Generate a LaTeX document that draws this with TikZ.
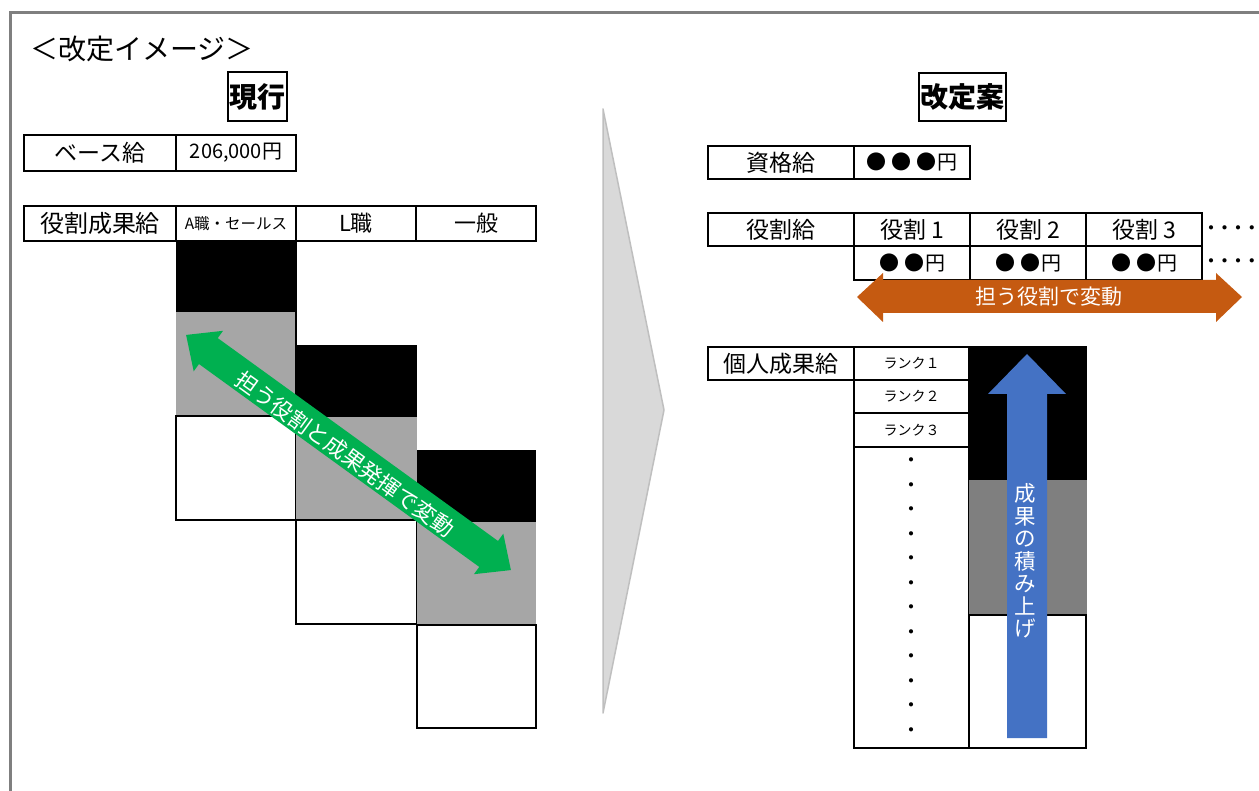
\documentclass[tikz,border=0pt]{standalone}
\usepackage{fontspec}
\setmainfont{Noto Sans CJK JP}
\definecolor{framegray}{RGB}{127,127,127}
\definecolor{midgray}{RGB}{166,166,166}
\definecolor{darkgray2}{RGB}{127,127,127}
\definecolor{arrgreen}{RGB}{0,176,80}
\definecolor{arrorange}{RGB}{197,90,17}
\definecolor{arrblue}{RGB}{68,114,196}
\definecolor{chevfill}{RGB}{217,217,217}
\definecolor{chevline}{RGB}{191,191,191}
\tikzset{
  cell/.style={draw=black, line width=1.7pt, fill=white, inner sep=0pt, font=\fontsize{23}{25}\selectfont},
  tline/.style={draw=black, line width=1.7pt},
  title/.style={draw=black, line width=1.7pt, inner sep=0pt, font=\bfseries\fontsize{28}{30}\selectfont},
  wtext/.style={text=white, inner sep=0pt},
  dotfont/.style={inner sep=0pt, font=\bfseries\fontsize{15}{15}\selectfont},
}
\newcommand\mkcell[7][]{\node[cell,#1,minimum width={#5-#3},minimum height={#6-#4}] (#2) at ({(#3+#5)/2},{(#4+#6)/2}) {#7};}
\newcommand\bdots[1]{●\hspace{#1}●}
\newcommand\onedot{\makebox[13.6pt]{・}}
\newcommand\fourdots{\onedot\onedot\onedot\onedot}
\begin{document}
\begin{tikzpicture}[x=1pt,y=-1pt]
\useasboundingbox (0,0) rectangle (1259,791);
\clip (0,0) rectangle (1259,791);
\fill[white] (0,0) rectangle (1259,791);
\draw[framegray, line width=3pt] (10,13) rectangle (1300,830);

% title
\node[anchor=west, inner sep=0pt, font=\fontsize{28}{30}\selectfont] (ttl) at (30,49) {＜改定イメージ＞};

% current
\node[title, minimum width=59, minimum height=49] (genko) at (257.5,96.5) {現行};
\mkcell{base}{24}{135}{176}{171}{ベース給}
\mkcell[font=\fontsize{20}{22}\selectfont]{baseval}{176}{135}{296}{171}{206,000円}
\mkcell[font=\fontsize{24}{26}\selectfont]{yk}{24}{206}{176}{241}{役割成果給}
\mkcell[font=\fontsize{15.5}{17}\selectfont]{ca}{176}{206}{296}{241}{A職・セールス}
\mkcell[font=\fontsize{22}{24}\selectfont]{cl}{296}{206}{416}{241}{L職}
\mkcell[font=\fontsize{22}{24}\selectfont]{cg}{416}{206}{536}{241}{一般}

% staircase
\fill[black] (176,241) rectangle (296,312);
\fill[midgray] (176,312) rectangle (296,416);
\draw[tline] (296,241) -- (296,416);
\draw[tline] (176,416) rectangle (296,520);
\fill[black] (296,345) rectangle (417,417);
\fill[midgray] (296,417) rectangle (417,520);
\draw[tline] (296,520) rectangle (417,624);
\fill[black] (417,450) rectangle (536,522);
\fill[midgray] (417,522) rectangle (536,625);
\draw[tline] (417,625) rectangle (536,728);

% green double arrow
\begin{scope}[shift={(348.5,452.5)}, rotate=-35.9]
\fill[arrgreen] (-200.5,0) -- (-173,25) -- (-173,16) -- (173,16) -- (173,25) -- (200.5,0)
  -- (173,-25) -- (173,-16) -- (-173,-16) -- (-173,-25) -- cycle;
\end{scope}
\node[wtext, rotate=-35.9, font=\fontsize{22}{23}\selectfont] (gtext) at (345,454) {担う役割と成果発揮で変動};

% chevron
\draw[fill=chevfill, draw=chevline, line width=1.5pt, line join=round] (603,109) -- (664,410) -- (603,713) -- cycle;

% proposal
\node[title, minimum width=87, minimum height=48] (kaitei) at (962.5,97) {改定案};
\mkcell{shikaku}{708}{146}{854}{179}{資格給}
\mkcell[font=\fontsize{20}{22}\selectfont]{shval}{854}{146}{970}{179}{\bdots{5pt}\hspace{5pt}●\hspace{1pt}円}
\mkcell{yakuwari}{708}{213}{854}{246}{役割給}
\mkcell{r1}{854}{213}{970}{246}{役割 1}
\mkcell{r2}{970}{213}{1086}{246}{役割 2}
\mkcell{r3}{1086}{213}{1202}{246}{役割 3}
\mkcell[font=\fontsize{20}{22}\selectfont]{v1}{854}{246}{970}{280}{\bdots{5pt}\hspace{1pt}円}
\mkcell[font=\fontsize{20}{22}\selectfont]{v2}{970}{246}{1086}{280}{\bdots{5pt}\hspace{1pt}円}
\mkcell[font=\fontsize{20}{22}\selectfont]{v3}{1086}{246}{1202}{280}{\bdots{5pt}\hspace{1pt}円}
\node[dotfont, anchor=west] (dots1) at (1204,230) {\fourdots};
\node[dotfont, anchor=west] (dots2) at (1204,263) {\fourdots};

% orange arrow
\fill[arrorange] (857,297) -- (883,273) -- (883,280) -- (1216,280) -- (1216,273) -- (1242,297)
  -- (1216,322) -- (1216,313) -- (883,313) -- (883,322) -- cycle;
\node[wtext, font=\fontsize{21}{23}\selectfont] (otext) at (1049,297) {担う役割で変動};

% individual
\mkcell{kojin}{708}{347}{854}{380}{個人成果給}
\mkcell[font=\fontsize{14}{15}\selectfont]{rk1}{854}{347}{969}{380}{ランク１}
\mkcell[font=\fontsize{14}{15}\selectfont]{rk2}{854}{380}{969}{413}{ランク２}
\mkcell[font=\fontsize{14}{15}\selectfont]{rk3}{854}{413}{969}{447}{ランク３}
\mkcell{rkall}{854}{447}{969}{748}{}
\foreach \k in {0,...,11} {
  \node[dotfont] (rd\k) at (911,{462+24.5*\k}) {・};
}
\fill[black] (969,346) rectangle (1087,480);
\fill[darkgray2] (969,480) rectangle (1087,615);
\draw[tline] (969,615) rectangle (1086,748);

% blue arrow
\fill[arrblue] (1027,354) -- (1066,394) -- (1047,394) -- (1047,738) -- (1007,738) -- (1007,394) -- (988,394) -- cycle;
\node[wtext, align=center, font=\fontsize{21.5}{22.5}\selectfont] (btext) at (1025,561) {成\\果\\の\\積\\み\\上\\げ};
\end{tikzpicture}
\end{document}
